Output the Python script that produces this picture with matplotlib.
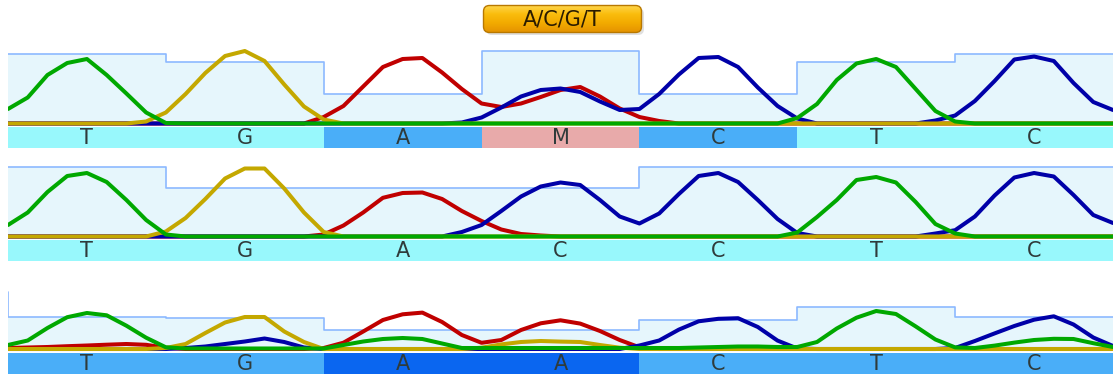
import numpy as np
import matplotlib.pyplot as plt
from matplotlib.patches import FancyBboxPatch

W, H = 1113, 378
X0 = 8  # left edge of the trace view in pixels

# base calls of the three chromatograms
calls1 = ["T", "G", "A", "M", "C", "T", "C"]
calls2 = ["T", "G", "A", "C", "C", "T", "C"]
calls3 = ["T", "G", "A", "A", "C", "T", "C"]

# quality per base; first value belongs to the base just left of the view
qual1 = [69.5, 69.5, 62, 29.5, 72.5, 29.5, 62, 69.5]
qual2 = [70, 70, 48.5, 48.5, 48.5, 69.5, 69.5, 69.5]
qual3 = [57, 32, 31, 19, 19, 29, 42, 32]

# trace intensities, 8 samples per base (+ last point)
green1 = [14.5, 26, 48.5, 60.5, 64.5, 48.5, 30, 11,
          0.5, 0, 0, 0, 0, 0, 0, 0,
          0, 0, 0, 0, 0, 0, 0, 0,
          0, 0, 0, 0, 0, 0, 0, 0,
          0, 0, 0, 0, 0, 0, 0, 0,
          5.5, 19.5, 43.5, 60, 64.5, 56.5, 34.5, 12.5,
          2, 0, 0, 0, 0, 0, 0, 0, 0]
yellow1 = [0, 0, 0, 0, 0, 0, 0, 2,
           11, 29.5, 50.5, 67.5, 72.5, 62.5, 39, 17,
           4, 0, 0, 0, 0, 0, 0, 0,
           0, 0, 0, 0, 0, 0, 0, 0,
           0, 0, 0, 0, 0, 0, 0, 0,
           0, 0, 0, 0, 0, 0, 0, 0,
           0, 0, 0, 0, 0, 0, 0, 0, 0]
red1 = [0, 0, 0, 0, 0, 0, 0, 0,
        0, 0, 0, 0, 0, 0, 0, 0,
        6.5, 17.5, 37, 56.5, 64.5, 65.5, 51, 34.5,
        20, 16.5, 20, 26.5, 33.5, 36.5, 27, 15,
        6.5, 2.5, 0, 0, 0, 0, 0, 0,
        0, 0, 0, 0, 0, 0, 0, 0,
        0, 0, 0, 0, 0, 0, 0, 0, 0]
blue1 = [0, 0, 0, 0, 0, 0, 0, 0,
         0, 0, 0, 0, 0, 0, 0, 0,
         0, 0, 0, 0, 0, 0, 0, 1,
         6, 16, 27, 33.5, 35, 31.5, 22, 13.5,
         14.5, 29.5, 49, 65.5, 66.5, 56.5, 36, 17.5,
         5, 0, 0, 0, 0, 0, 0, 3,
         8, 22.5, 42.5, 64, 67, 62.5, 40.5, 21.5, 13.5]

green2 = [11.5, 24, 44.5, 60.5, 63.5, 54.5, 36.5, 16.5,
          2, 0, 0, 0, 0, 0, 0, 0,
          0, 0, 0, 0, 0, 0, 0, 0,
          0, 0, 0, 0, 0, 0, 0, 0,
          0, 0, 0, 0, 0, 0, 0, 0,
          4, 19.5, 36.5, 56.5, 59.5, 54, 34.5, 12.5,
          3, 0, 0, 0, 0, 0, 0, 0, 0]
yellow2 = [0, 0, 0, 0, 0, 0, 0, 0,
           5, 18.5, 37.5, 58, 68, 68, 48, 24,
           4.5, 0, 0, 0, 0, 0, 0, 0,
           0, 0, 0, 0, 0, 0, 0, 0,
           0, 0, 0, 0, 0, 0, 0, 0,
           0, 0, 0, 0, 0, 0, 0, 0,
           0, 0, 0, 0, 0, 0, 0, 0, 0]
red2 = [0, 0, 0, 0, 0, 0, 0, 0,
        0, 0, 0, 0, 0, 0, 0, 0,
        2, 11, 24, 38.7, 43.5, 44, 37.5, 25.5,
        15.5, 7, 2.5, 1, 0, 0, 0, 0,
        0, 0, 0, 0, 0, 0, 0, 0,
        0, 0, 0, 0, 0, 0, 0, 0,
        0, 0, 0, 0, 0, 0, 0, 0, 0]
blue2 = [0, 0, 0, 0, 0, 0, 0, 0,
         0, 0, 0, 0, 0, 0, 0, 0,
         0, 0, 0, 0, 0, 0, 0, 4.5,
         11.5, 25.5, 40, 50, 54, 51.5, 36.5, 20,
         13, 23, 42.5, 60.5, 63.5, 54.5, 36.5, 17.5,
         3.5, 0, 0, 0, 0, 0, 0, 3,
         6.3, 20, 41, 59, 63.5, 60, 41.5, 21.5, 13.5]

green3 = [4, 8.5, 21, 31.8, 36, 33.7, 23.3, 11.3,
          1.7, 0.5, 0.5, 0.5, 0.5, 0.5, 0.5, 0.5,
          0.5, 4, 7.5, 10, 11, 10, 5.5, 1,
          1, 1, 1, 1, 1, 1, 1, 1,
          1, 1, 1, 1.5, 2, 2.5, 2.5, 2,
          2, 7, 20.5, 31.3, 38, 35, 22.6, 9.5,
          1.6, 1, 3.4, 6.4, 9, 10.2, 10, 5.8, 2]
yellow3 = [0, 0, 0, 0, 0, 0, 0, 0,
           1, 5, 16, 26.5, 32, 32, 17.5, 7,
           0, 0, 0, 0, 0, 0, 0, 0,
           1.3, 4.6, 7, 8, 7.4, 7, 4, 1.3,
           0, 0, 0, 0, 0, 0, 0, 0,
           0, 0, 0, 0, 0, 0, 0, 0,
           0, 0, 0, 0, 0, 0, 0, 0, 0]
red3 = [1, 1.5, 2, 2.8, 3.5, 4.3, 5, 4.2,
        1.2, 0, 0, 0, 0, 0, 0, 0,
        1, 6.3, 17.5, 29, 34.7, 36.4, 27, 14,
        6.2, 9, 19, 25.7, 28.7, 25.4, 18, 9,
        1.7, 0, 0, 0, 0, 0, 0, 0,
        0, 0, 0, 0, 0, 0, 0, 0,
        0, 0, 0, 0, 0, 0, 0, 0, 0]
blue3 = [0, 0, 0, 0, 0, 0, 0, 0,
         0, 1, 2.5, 5, 7.5, 10.5, 7, 1.5,
         0, 0, 0, 0, 0, 0, 0, 0,
         0, 0, 0, 0, 0, 0, 0, 0,
         3.5, 8.5, 19.4, 27.7, 30.2, 30.8, 22, 8.4,
         0.5, 0, 0, 0, 0, 0, 0, 0,
         1, 8, 15.6, 23, 29.3, 32.7, 24.5, 11.5, 3]

# colours
CYAN, MID, DARK, PINK = "#98f8fc", "#4aaef8", "#0a66f0", "#e8aaaa"
cols1 = [CYAN, CYAN, MID, PINK, MID, CYAN, CYAN]
cols2 = [CYAN] * 7
cols3 = [MID, MID, DARK, DARK, MID, MID, MID]
TRACE_COLS = {"red": "#c00000", "blue": "#0000a8", "yellow": "#c4a800", "green": "#00a800"}
QFILL, QLINE = "#e6f6fc", "#8cb9ff"
TXT = "#2f3b3b"

fig = plt.figure(figsize=(W / 100, H / 100), dpi=100)


def px_axes(x0, y0, x1, y1):
    return fig.add_axes([x0 / W, 1 - y1 / H, (x1 - x0) / W, (y1 - y0) / H])


def panel(top, base, bar_top, bar_bot, traces, qual, calls, cols):
    ax = px_axes(X0, top, W, base + 3.5)
    ax.set_xlim(0, 7)
    ax.set_ylim(-3.5, base - top)
    ax.axis("off")
    edges = np.arange(-1, 8)
    q = list(qual) + [qual[-1]]
    ax.fill_between(edges, 0, q, step="post", color=QFILL, lw=0)
    ax.step(edges, q, where="post", color=QLINE, lw=1.2)
    scan = np.arange(57) / 8
    for name in ["red", "blue", "yellow", "green"]:
        ax.plot(scan, traces[name], color=TRACE_COLS[name], lw=2.9,
                solid_joinstyle="round", solid_capstyle="round")

    bx = px_axes(X0, bar_top, W, bar_bot)
    bx.set_xlim(0, 7)
    bx.set_ylim(0, 1)
    bx.axis("off")
    bx.bar(np.arange(7) + 0.5, 1, width=1, color=cols, lw=0)
    for i, b in enumerate(calls):
        bx.text(i + 0.5, 0.56, b, ha="center", va="center_baseline",
                fontsize=15, color=TXT)


panel(40, 123.5, 127, 147.5,
      {"red": red1, "blue": blue1, "yellow": yellow1, "green": green1},
      qual1, calls1, cols1)
panel(155, 236.5, 240, 261,
      {"red": red2, "blue": blue2, "yellow": yellow2, "green": green2},
      qual2, calls2, cols2)
panel(270, 349, 353, 374,
      {"red": red3, "blue": blue3, "yellow": yellow3, "green": green3},
      qual3, calls3, cols3)

# the A/C/G/T button
bt = px_axes(478, 0, 652, 40)
bt.set_xlim(478, 652)
bt.set_ylim(40, 0)
bt.axis("off")
shadow = FancyBboxPatch((486, 8), 158, 27, boxstyle="round,pad=0,rounding_size=6",
                        fc=(0, 0, 0, 0.12), ec="none")
bt.add_patch(shadow)
box = FancyBboxPatch((483.5, 5.5), 158, 27, boxstyle="round,pad=0,rounding_size=6",
                     fc="none", ec="#b87800", lw=1.0, zorder=3)
bt.add_patch(box)
stops = np.array([[1.00, 0.84, 0.30], [0.98, 0.74, 0.05],
                  [0.95, 0.67, 0.00], [0.90, 0.58, 0.00]])
g = np.linspace(0, 3, 60)
img = np.stack([np.interp(g, np.arange(4), stops[:, c]) for c in range(3)], axis=1)[:, None, :]
im = bt.imshow(img, extent=(483.5, 641.5, 32.5, 5.5), aspect="auto", zorder=2)
im.set_clip_path(box)
bt.text(562.5, 19.5, "A/C/G/T", ha="center", va="center", fontsize=15,
        color="#2a1c00", zorder=4)

fig.savefig("out.png", dpi=100)
